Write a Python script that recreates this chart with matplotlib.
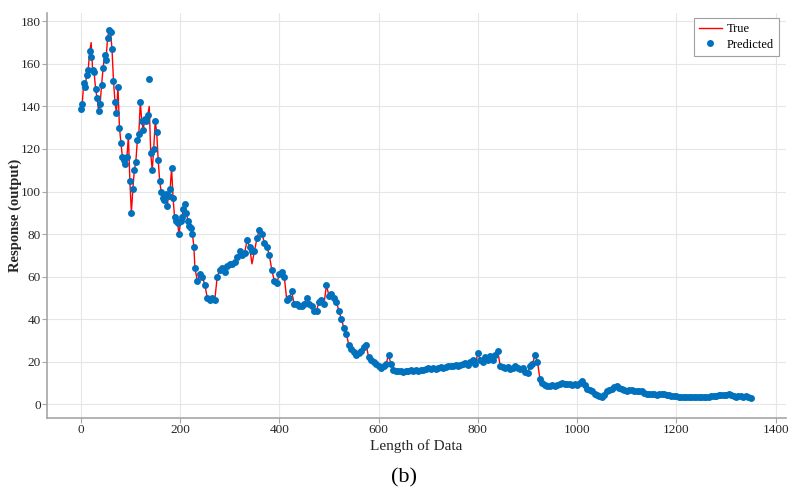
import matplotlib.pyplot as plt
import numpy as np

# predicted response
early_x = np.arange(0, 229, 3)
early_y = [139, 141, 151, 149, 155, 157, 166, 163, 157, 156,
           148, 144, 138, 141, 150, 158, 164, 162, 172, 176,
           175, 167, 152, 142, 137, 149, 130, 123, 116, 115,
           113, 116, 126, 105, 90, 101, 110, 114, 124, 127,
           142, 133, 129, 134, 133, 136, 153, 118, 110, 120,
           133, 128, 115, 105, 100, 97, 96, 99, 93, 98,
           101, 111, 97, 88, 86, 85, 80, 86, 88, 92,
           94, 90, 86, 84, 83, 80, 74]

late_x = np.arange(230, 1351, 5)
late_y = [64, 58, 61, 60, 56, 50, 49, 50, 49, 60,
          63, 64, 62, 65, 66, 66, 67, 69, 72, 70,
          71, 77, 74, 72, 72, 78, 82, 80, 76, 74,
          70, 63, 58, 57, 61, 62, 60, 49, 50, 53,
          47, 47, 46, 46, 47, 50, 47, 46, 44, 44,
          48, 49, 47, 56, 51, 52, 50, 48, 44, 40,
          36, 33, 28, 26, 24.5, 23, 24, 25, 27, 28,
          22, 21, 20, 19, 18, 17, 18, 19, 23, 19,
          16, 15.5, 15.5, 15.5, 15, 15.5, 15.5, 16, 15.5, 16,
          15.5, 16, 16, 16.5, 17, 16.5, 17, 16.5, 17, 17.5,
          17, 17.5, 18, 18, 18, 18.5, 18, 18.5, 19, 19.5,
          18.5, 20, 21, 19, 24, 21, 20, 22, 21, 22.5,
          21, 23, 25, 18, 17.5, 17, 17.5, 16.5, 17, 18,
          17, 16.5, 17, 15, 14.5, 18, 19, 23, 20, 12,
          10, 9, 8.5, 8.5, 9, 8.5, 9, 9.5, 10, 9.5,
          9.5, 9.5, 9, 9.5, 9, 10, 11, 9, 7, 6.5,
          6, 5, 4.5, 4, 3.3, 4.5, 6, 6.5, 7, 8,
          8.5, 7.5, 7, 6.5, 6, 6.5, 6.5, 6.2, 6, 6.3,
          6, 5.5, 5, 4.8, 5, 5, 4.5, 4.8, 5, 4.6,
          4.5, 4.2, 4, 4, 3.8, 3.6, 3.5, 3.6, 3.4, 3.4,
          3.3, 3.3, 3.2, 3.3, 3.2, 3.3, 3.5, 3.6, 3.8, 4,
          4, 4.2, 4.3, 4.2, 4.4, 4.8, 4.3, 3.8, 3.6, 3.8,
          3.7, 3.6, 3.8, 3.4, 3.1]

xData = np.concatenate([early_x, late_x])
predicted = np.array(early_y + late_y, dtype=float)

# true values differ from the prediction only at a few spots
true_fix = {21: 170, 138: 140, 345: 66}
trueVals = predicted.copy()
for xv, yv in true_fix.items():
    trueVals[xData == xv] = yv

plt.rcParams['font.family'] = ['Liberation Serif', 'DejaVu Serif']

fig = plt.figure(figsize=(8.03, 4.93), dpi=100)
ax = fig.add_axes([0.0585, 0.152, 0.9205, 0.822])

ax.plot(xData, trueVals, color='#ff0000', linewidth=1.0, label='True', zorder=2)
ax.plot(xData, predicted, linestyle='none', marker='o', markersize=5,
        color='#0072bd', markeredgewidth=0, label='Predicted', zorder=3)

ax.set_xlim(-68, 1421)
ax.set_ylim(-6.5, 184)
ax.set_xticks(np.arange(0, 1401, 200))
ax.set_yticks(np.arange(0, 181, 20))
ax.grid(True, color='#e6e6e6', linewidth=0.8)
ax.set_axisbelow(True)

for side in ['top', 'right']:
    ax.spines[side].set_visible(False)
for side in ['left', 'bottom']:
    ax.spines[side].set_color('#a6a6a6')
    ax.spines[side].set_linewidth(1.2)
ax.tick_params(direction='out', length=3.5, color='#a6a6a6', labelsize=9.5, labelcolor='#262626', pad=1)

ax.set_xlabel('Length of Data', fontsize=11, color='#262626', labelpad=2)
ax.set_ylabel('Response (output)', fontsize=10.5, fontweight='bold', color='#262626')
ax.yaxis.set_label_coords(-0.034, 0.5)

leg = ax.legend(loc='upper right', bbox_to_anchor=(0.99, 0.987), borderaxespad=0,
                fancybox=False, edgecolor='#a0a0a0', fontsize=9, handlelength=1.8,
                handletextpad=0.4, borderpad=0.4, labelspacing=0.3, framealpha=1)
leg.get_frame().set_linewidth(0.8)

fig.text(0.503, 0.03, '(b)', ha='center', va='center', fontsize=16)

plt.savefig('out.png', dpi=100)
